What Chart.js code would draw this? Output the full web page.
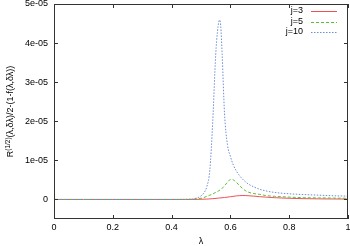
<!DOCTYPE html>
<html>
<head>
<meta charset="utf-8">
<script src="https://cdn.jsdelivr.net/npm/chart.js@4.4.1/dist/chart.umd.min.js"></script>
<style>
  html, body { margin: 0; padding: 0; background: #fff; }
  #wrap { width: 350px; height: 246px; }
</style>
</head>
<body>
<div id="wrap"><canvas id="chart" width="350" height="246"></canvas></div>
<script>
// values
const lambda3 = [0, 0.1, 0.2, 0.3, 0.4, 0.47, 0.5, 0.52, 0.54, 0.56, 0.58, 0.6, 0.62, 0.64, 0.65, 0.66, 0.68, 0.7, 0.72, 0.75, 0.8, 0.85, 0.9, 0.95, 1.0];
const r3 = [0, 0, 0, 0, 0, 0, 0.05e-6, 0.1e-6, 0.2e-6, 0.35e-6, 0.5e-6, 0.7e-6, 0.9e-6, 1.0e-6, 1.0e-6, 0.95e-6, 0.85e-6, 0.7e-6, 0.6e-6, 0.45e-6, 0.3e-6, 0.2e-6, 0.15e-6, 0.12e-6, 0.1e-6];

const lambda5 = [0, 0.1, 0.2, 0.3, 0.4, 0.45, 0.47, 0.49, 0.5, 0.51, 0.52, 0.53, 0.54, 0.55, 0.56, 0.57, 0.58, 0.59, 0.6, 0.61, 0.62, 0.63, 0.64, 0.65, 0.66, 0.68, 0.7, 0.72, 0.75, 0.8, 0.85, 0.9, 0.95, 1.0];
const r5 = [0, 0, 0, 0, 0, 0, 0.05e-6, 0.2e-6, 0.3e-6, 0.5e-6, 0.8e-6, 1.1e-6, 1.4e-6, 1.8e-6, 2.2e-6, 2.7e-6, 3.5e-6, 4.4e-6, 5.1e-6, 5.0e-6, 4.4e-6, 3.6e-6, 2.9e-6, 2.3e-6, 1.9e-6, 1.5e-6, 1.3e-6, 1.0e-6, 0.8e-6, 0.6e-6, 0.45e-6, 0.4e-6, 0.35e-6, 0.3e-6];

const lambda10 = [0, 0.1, 0.2, 0.3, 0.4, 0.45, 0.47, 0.49, 0.5, 0.51, 0.52, 0.53, 0.54, 0.55, 0.556, 0.56, 0.563, 0.567, 0.572, 0.58, 0.59, 0.6, 0.61, 0.62, 0.63, 0.64, 0.65, 0.66, 0.68, 0.7, 0.72, 0.75, 0.8, 0.85, 0.9, 0.95, 1.0];
const r10 = [0, 0, 0, 0, 0, 0.05e-6, 0.1e-6, 0.5e-6, 0.9e-6, 1.7e-6, 3.3e-6, 7.5e-6, 2.0e-5, 3.7e-5, 4.3e-5, 4.52e-5, 4.59e-5, 4.45e-5, 3.7e-5, 2.2e-5, 1.4e-5, 1.1e-5, 8.8e-6, 7.3e-6, 6.2e-6, 5.3e-6, 4.6e-6, 4.0e-6, 3.2e-6, 2.6e-6, 2.2e-6, 1.8e-6, 1.45e-6, 1.25e-6, 1.1e-6, 0.95e-6, 0.85e-6];

const seriesLabels = ['j=3', 'j=5', 'j=10'];
const seriesColors = ['rgb(240, 80, 85)', 'rgb(90, 190, 50)', 'rgb(110, 140, 215)'];
const seriesDashes = [[], [3, 2], [1.5, 1.5]];

const xTicks = [0, 0.2, 0.4, 0.6, 0.8, 1];
const xTickLabels = ['0', '0.2', '0.4', '0.6', '0.8', '1'];
const yTicks = [0, 1e-5, 2e-5, 3e-5, 4e-5, 5e-5];
const yTickLabels = ['0', '1e-05', '2e-05', '3e-05', '4e-05', '5e-05'];

function toPoints(xs, ys) {
  return xs.map((x, i) => ({ x, y: ys[i] }));
}

const font = '"Liberation Sans", Arial, Helvetica, sans-serif';

// gnuplot style frame, inward ticks, labels and legend
const gnuplotFrame = {
  id: 'gnuplotFrame',
  afterDatasetsDraw(chart) {
    const { ctx, chartArea: { left, top, right, bottom } } = chart;
    const xs = chart.scales.x;
    const ys = chart.scales.y;
    ctx.save();
    ctx.setLineDash([]);
    ctx.strokeStyle = '#333';
    ctx.lineWidth = 1;
    ctx.strokeRect(left + 0.5, top + 0.5, right - left - 1, bottom - top - 1);

    ctx.beginPath();
    xTicks.forEach((v) => {
      const px = Math.round(xs.getPixelForValue(v)) + 0.5;
      ctx.moveTo(px, bottom);
      ctx.lineTo(px, bottom - 4);
      ctx.moveTo(px, top);
      ctx.lineTo(px, top + 4);
    });
    yTicks.forEach((v) => {
      const py = Math.round(ys.getPixelForValue(v)) + 0.5;
      ctx.moveTo(left, py);
      ctx.lineTo(left + 4, py);
      ctx.moveTo(right, py);
      ctx.lineTo(right - 4, py);
    });
    ctx.stroke();

    ctx.fillStyle = '#000';
    ctx.font = `9px ${font}`;
    ctx.textAlign = 'center';
    ctx.textBaseline = 'middle';
    xTicks.forEach((v, i) => {
      ctx.fillText(xTickLabels[i], xs.getPixelForValue(v), bottom + 9);
    });
    ctx.textAlign = 'right';
    yTicks.forEach((v, i) => {
      ctx.fillText(yTickLabels[i], left - 6, ys.getPixelForValue(v));
    });

    // x title
    ctx.textAlign = 'center';
    ctx.fillText('λ', (left + right) / 2, bottom + 23);

    // y title with superscript
    ctx.save();
    ctx.translate(11, (top + bottom) / 2);
    ctx.rotate(-Math.PI / 2);
    const parts = [
      { t: 'R', size: 9, dy: 0 },
      { t: '(1/2)', size: 6.5, dy: -3 },
      { t: '(λ,δλ)/2-(1-f(λ,δλ))', size: 9, dy: 0 },
    ];
    let total = 0;
    parts.forEach((p) => {
      ctx.font = `${p.size}px ${font}`;
      p.w = ctx.measureText(p.t).width;
      total += p.w;
    });
    let cx = -total / 2;
    ctx.textAlign = 'left';
    parts.forEach((p) => {
      ctx.font = `${p.size}px ${font}`;
      ctx.fillText(p.t, cx, p.dy);
      cx += p.w;
    });
    ctx.restore();

    // legend
    ctx.font = `9px ${font}`;
    seriesLabels.forEach((label, i) => {
      const ly = top + 7 + i * 10.5;
      ctx.fillStyle = '#000';
      ctx.textAlign = 'right';
      ctx.fillText(label, right - 45, ly);
      ctx.beginPath();
      ctx.strokeStyle = seriesColors[i];
      ctx.lineWidth = 1;
      ctx.setLineDash(seriesDashes[i]);
      ctx.moveTo(right - 37, Math.round(ly) + 0.5);
      ctx.lineTo(right - 11, Math.round(ly) + 0.5);
      ctx.stroke();
    });
    ctx.restore();
  },
};

new Chart(document.getElementById('chart'), {
  type: 'line',
  data: {
    datasets: [
      {
        label: seriesLabels[0],
        data: toPoints(lambda3, r3),
        borderColor: seriesColors[0],
        borderWidth: 1,
        borderDash: seriesDashes[0],
        order: 2,
      },
      {
        label: seriesLabels[1],
        data: toPoints(lambda5, r5),
        borderColor: seriesColors[1],
        borderWidth: 1,
        borderDash: seriesDashes[1],
        order: 1,
      },
      {
        label: seriesLabels[2],
        data: toPoints(lambda10, r10),
        borderColor: seriesColors[2],
        borderWidth: 1,
        borderDash: seriesDashes[2],
        order: 0,
      },
    ],
  },
  options: {
    responsive: false,
    animation: false,
    layout: { padding: { left: 54, right: 2, top: 4, bottom: 27 } },
    elements: {
      point: { radius: 0 },
      line: { cubicInterpolationMode: 'monotone' },
    },
    plugins: {
      legend: { display: false },
      tooltip: { enabled: false },
    },
    scales: {
      x: { type: 'linear', min: 0, max: 1, display: false },
      y: { type: 'linear', min: -0.5e-5, max: 5e-5, display: false },
    },
  },
  plugins: [gnuplotFrame],
});
</script>
</body>
</html>
